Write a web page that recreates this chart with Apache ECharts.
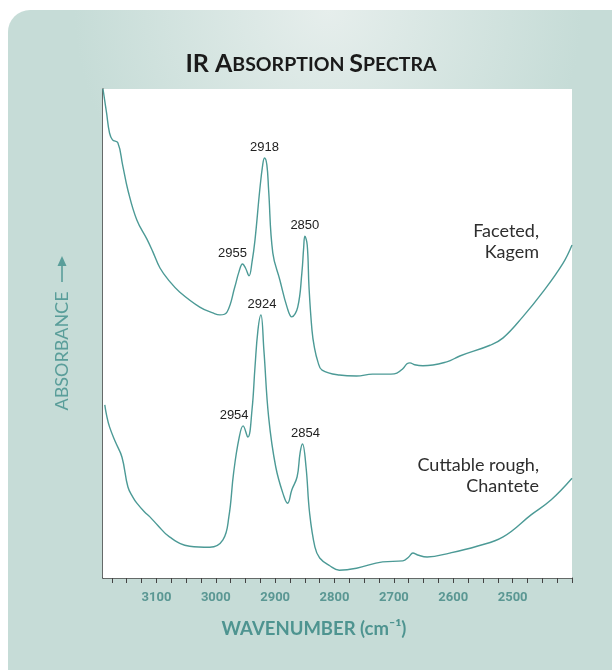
<!DOCTYPE html>
<html>
<head>
<meta charset="utf-8">
<script src="https://cdn.jsdelivr.net/npm/echarts@6/dist/echarts.min.js"></script>
<style>
  html, body { margin: 0; padding: 0; background: #ffffff; }
  #chart { width: 612px; height: 670px; }
</style>
</head>
<body>
<div id="chart"></div>
<script>
// Wavenumbers (cm-1) and absorbance (arbitrary units, offset per spectrum)
const wnKagem = [3190, 3184, 3179, 3174, 3165, 3157, 3148, 3133, 3116, 3106, 3094, 3078, 3061, 3027, 3005, 2993, 2981, 2968, 2961, 2955, 2950, 2944, 2939, 2934, 2926, 2921, 2918, 2914, 2911, 2904, 2892, 2880, 2872, 2862, 2855, 2852, 2850, 2846, 2843, 2838, 2834, 2828, 2821, 2792, 2763, 2736, 2705, 2695, 2685, 2678, 2673, 2665, 2651, 2611, 2589, 2538, 2516, 2483, 2449, 2415, 2400];
const absKagem = [1.000, 0.951, 0.910, 0.896, 0.890, 0.845, 0.793, 0.732, 0.693, 0.667, 0.634, 0.607, 0.585, 0.554, 0.542, 0.538, 0.544, 0.595, 0.626, 0.642, 0.634, 0.618, 0.646, 0.691, 0.793, 0.845, 0.859, 0.845, 0.793, 0.665, 0.609, 0.554, 0.534, 0.554, 0.624, 0.675, 0.699, 0.681, 0.595, 0.507, 0.472, 0.442, 0.425, 0.415, 0.413, 0.417, 0.417, 0.419, 0.428, 0.438, 0.440, 0.436, 0.434, 0.442, 0.454, 0.476, 0.491, 0.534, 0.585, 0.644, 0.681];

const wnChantete = [3187, 3184, 3179, 3169, 3158, 3148, 3140, 3133, 3120, 3111, 3098, 3078, 3044, 3010, 2988, 2978, 2970, 2961, 2954, 2946, 2939, 2934, 2929, 2924, 2919, 2911, 2899, 2885, 2879, 2872, 2863, 2858, 2854, 2848, 2842, 2833, 2825, 2808, 2792, 2763, 2719, 2685, 2675, 2668, 2660, 2644, 2606, 2560, 2516, 2469, 2435, 2400];
const absChantete = [0.354, 0.333, 0.309, 0.278, 0.247, 0.186, 0.166, 0.153, 0.135, 0.125, 0.108, 0.084, 0.065, 0.063, 0.078, 0.125, 0.215, 0.285, 0.311, 0.288, 0.344, 0.431, 0.507, 0.538, 0.466, 0.329, 0.227, 0.166, 0.153, 0.180, 0.207, 0.256, 0.274, 0.227, 0.133, 0.063, 0.041, 0.025, 0.016, 0.020, 0.033, 0.035, 0.043, 0.051, 0.047, 0.043, 0.051, 0.065, 0.084, 0.129, 0.160, 0.204];

// Labelled band positions (cm-1)
const peaksKagem = [2955, 2918, 2850];
const peaksChantete = [2954, 2924, 2854];

// Axis ticks
const tickLabels = [3100, 3000, 2900, 2800, 2700, 2600, 2500];
const minorStep = 25;
const wnMin = 2400;
const wnMax = 3190;

const seriesNames = ['Faceted,\nKagem', 'Cuttable rough,\nChantete'];

const TEAL = '#4c9a96';
const AXIS_TEXT = '#5a9793';
const TITLE_TEAL = '#5a9e9a';

// horizontal nudges for peak labels so they clear the curve
const labelNudge = { 2955: -10, 2918: 0, 2850: 0, 2954: -9, 2924: 1, 2854: 3 };

function buildData(wn, abs, peaks) {
  return wn.map(function (w, i) {
    const item = { value: [w, abs[i]] };
    if (peaks.indexOf(w) >= 0) {
      item.label = {
        show: true,
        position: 'top',
        distance: 4,
        offset: [labelNudge[w] || 0, 0],
        formatter: String(w),
        fontFamily: 'Liberation Sans, Arial, sans-serif',
        fontSize: 13,
        color: '#222'
      };
    }
    return item;
  });
}

const tickValues = [];
for (let v = wnMin; v < wnMax; v += minorStep) tickValues.push(v);

function spectrumSeries(name, wn, abs, peaks) {
  return {
    name: name,
    type: 'line',
    data: buildData(wn, abs, peaks),
    showSymbol: true,
    showAllSymbol: true,
    symbol: 'circle',
    symbolSize: 0.01,
    itemStyle: { color: 'rgba(0,0,0,0)' },
    label: { show: false },
    smooth: 0.42,
    lineStyle: { color: TEAL, width: 1.4 },
    emphasis: { disabled: true },
    z: 5
  };
}

const chart = echarts.init(document.getElementById('chart'), null, { renderer: 'canvas' });

const option = {
  animation: false,
  backgroundColor: '#ffffff',
  grid: {
    left: 103, right: 40, top: 89, bottom: 92,
    show: true, backgroundColor: '#ffffff', borderWidth: 0, z: 1
  },
  graphic: [
    {
      type: 'rect', z: -10, silent: true,
      shape: { x: 8, y: 10, width: 604, height: 660, r: [22, 0, 0, 0] },
      style: {
        fill: new echarts.graphic.RadialGradient(0.53, 0, 0.42, [
          { offset: 0, color: '#e6eeec' },
          { offset: 1, color: '#c6dcd7' }
        ])
      }
    },
    {
      type: 'text', z: 10, x: 311, y: 62,
      style: {
        text: '{b|IR A}{s|BSORPTION }{b|S}{s|PECTRA}',
        align: 'center', verticalAlign: 'middle',
        fill: '#1a1a1a',
        rich: {
          b: { fontFamily: 'Lato', fontWeight: 'bold', fontSize: 25, lineHeight: 28, verticalAlign: 'bottom', fill: '#1a1a1a' },
          s: { fontFamily: 'Lato', fontWeight: 'bold', fontSize: 19.5, lineHeight: 28, verticalAlign: 'bottom', padding: [0, 0, 1, 0], fill: '#1a1a1a' }
        }
      }
    },
    {
      type: 'text', z: 10, x: 62, y: 351, rotation: Math.PI / 2,
      style: {
        text: 'ABSORBANCE',
        align: 'center', verticalAlign: 'middle',
        fontFamily: 'Lato', fontSize: 18, fill: TITLE_TEAL
      }
    },
    {
      // upward arrow beside the absorbance title
      type: 'group', z: 10,
      children: [
        {
          type: 'line', z: 10,
          shape: { x1: 62, y1: 282, x2: 62, y2: 263 },
          style: { stroke: TITLE_TEAL, lineWidth: 1.6 }
        },
        {
          type: 'polygon', z: 10,
          shape: { points: [[62, 256], [57.5, 266], [66.5, 266]] },
          style: { fill: TITLE_TEAL }
        }
      ]
    },
    {
      type: 'text', z: 10, x: 314, y: 629,
      style: {
        text: 'WAVENUMBER (cm\u207B\u00B9)',
        align: 'center', verticalAlign: 'middle',
        fontFamily: 'Lato', fontWeight: 'bold', fontSize: 18.5, fill: '#4e9490'
      }
    },
    {
      type: 'text', z: 10, x: 539, y: 221,
      style: {
        text: seriesNames[0], align: 'right', verticalAlign: 'top',
        fontFamily: 'Lato', fontSize: 18, lineHeight: 21, fill: '#2e2e2e'
      }
    },
    {
      type: 'text', z: 10, x: 539, y: 455,
      style: {
        text: seriesNames[1], align: 'right', verticalAlign: 'top',
        fontFamily: 'Lato', fontSize: 18, lineHeight: 21, fill: '#2e2e2e'
      }
    }
  ],
  xAxis: {
    type: 'value',
    inverse: true,
    min: wnMin,
    max: wnMax,
    interval: minorStep,
    axisLine: { show: true, lineStyle: { color: '#444', width: 1.5 } },
    axisTick: {
      show: true, inside: false, length: 5,
      customValues: tickValues,
      lineStyle: { color: '#444', width: 1 }
    },
    axisLabel: {
      customValues: tickLabels,
      formatter: function (v) { return String(v); },
      margin: 13,
      fontFamily: 'Roboto, sans-serif',
      fontWeight: 'bold',
      fontSize: 13,
      color: AXIS_TEXT
    },
    splitLine: { show: false }
  },
  yAxis: {
    type: 'value',
    min: 0,
    max: 1,
    axisLine: { show: true, lineStyle: { color: '#444', width: 1.5 } },
    axisTick: { show: false },
    axisLabel: { show: false },
    splitLine: { show: false }
  },
  series: [
    spectrumSeries('Faceted, Kagem', wnKagem, absKagem, peaksKagem),
    spectrumSeries('Cuttable rough, Chantete', wnChantete, absChantete, peaksChantete)
  ]
};

chart.setOption(option);
</script>
</body>
</html>
